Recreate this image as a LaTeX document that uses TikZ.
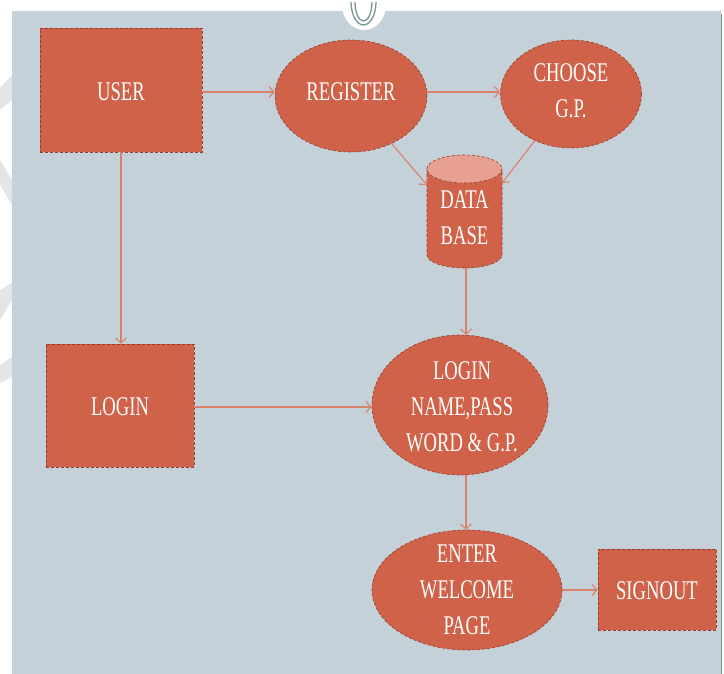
\documentclass[tikz,border=0pt]{standalone}
\usepackage{fontspec}
\setmainfont{Liberation Serif}[FakeStretch=0.69]
\usetikzlibrary{shapes.geometric,arrows.meta}
\definecolor{panel}{RGB}{197,209,216}
\definecolor{boxfill}{RGB}{208,98,73}
\definecolor{boxedge}{RGB}{150,60,45}
\definecolor{arrowc}{RGB}{218,128,108}
\definecolor{capfill}{RGB}{232,160,145}
\definecolor{wm}{RGB}{229,229,229}
\definecolor{tealc}{RGB}{120,150,150}
\begin{document}
\begin{tikzpicture}[x=1pt,y=-1pt,
  shapebox/.style={draw=boxedge, fill=boxfill, densely dashed, line width=0.6pt},
  rectbox/.style={shapebox, rectangle, inner sep=0pt},
  ellbox/.style={shapebox, ellipse, inner sep=0pt},
  lbl/.style={text=white, font=\fontsize{27}{36}\selectfont, align=center, inner sep=0pt},
  flow/.style={draw=arrowc, line width=1.1pt, -{Straight Barb[length=5pt,width=11pt]}},
]
\useasboundingbox (0,0) rectangle (724,674);
\fill[white] (0,0) rectangle (724,674);
% watermark in left margin
\fill[wm] (0,88) -- (12,75) -- (12,100) -- (0,110) -- cycle;
\fill[wm] (0,160) -- (12,180) -- (12,205) -- (0,185) -- cycle;
\fill[wm] (0,290) -- (12,283) -- (12,300) -- (0,320) -- cycle;
\fill[wm] (0,365) -- (12,357) -- (12,377) -- (0,383) -- cycle;
% panel
\fill[panel] (12,11) rectangle (721,674);
\draw[tealc, line width=1.5pt] (721.5,14) -- (721.5,674);
% top symbol
\fill[white] (342,0) -- (342,5) arc[start angle=180, end angle=0, x radius=22, y radius=25] -- (386,0) -- cycle;
\draw[tealc, line width=1.3pt] (351,2) arc[start angle=180, end angle=0, x radius=12.5, y radius=23];
\draw[tealc, line width=1.3pt] (355,2) arc[start angle=180, end angle=0, x radius=8.5, y radius=19];

% shapes
\node[rectbox, minimum width=162pt, minimum height=124pt] (user) at (121,90) {};
\node[lbl] (userT) at (121,92) {USER};
\node[ellbox, minimum width=152pt, minimum height=112pt] (reg) at (351,96) {};
\node[lbl] (regT) at (351,92) {REGISTER};
\node[ellbox, minimum width=141pt, minimum height=108pt] (gp) at (571,94) {};
\node[lbl] (gpT) at (571,91) {CHOOSE\\G.P.};

% database cylinder
\path[shapebox] (427,169) -- (427,255) arc[start angle=180, end angle=0, x radius=37.5, y radius=13] -- (502,169) -- cycle;
\path[shapebox, fill=capfill] (464.5,169) ellipse[x radius=37.5, y radius=14];
\node[inner sep=0pt, minimum width=75pt, minimum height=113pt] (db) at (464.5,211.5) {};
\node[lbl] (dbT) at (464.5,218) {DATA\\BASE};
\coordinate (dbL) at (427,185);
\coordinate (dbR) at (502,183);

\node[rectbox, minimum width=148pt, minimum height=123pt] (login) at (120,405.5) {};
\node[lbl] (loginT) at (120,407) {LOGIN};
\node[ellbox, minimum width=176pt, minimum height=140pt] (cred) at (460,405) {};
\node[lbl] (credT) at (462,407) {LOGIN\\NAME,PASS\\WORD \& G.P.};
\node[ellbox, minimum width=190pt, minimum height=120pt] (wel) at (467,590) {};
\node[lbl] (welT) at (467,590) {ENTER\\WELCOME\\PAGE};
\node[rectbox, minimum width=118pt, minimum height=81pt] (sign) at (657,589.5) {};
\node[lbl] (signT) at (657,591) {SIGNOUT};

% connectors
\draw[flow] (user.east |- 0,92) -- (reg.west |- 0,92);
\draw[flow] (reg.east |- 0,92) -- (gp.west |- 0,92);
\draw[flow] (reg) -- (dbL);
\draw[flow] (gp) -- (dbR);
\draw[flow] (db.south -| 466,0) -- (cred.north -| 466,0);
\draw[flow] (user.south) -- (login.north -| user.south);
\draw[flow] (login.east |- 0,407) -- (cred.west |- 0,407);
\draw[flow] (cred.south -| 466,0) -- (wel.north -| 466,0);
\draw[flow] (wel.east) -- (sign.west |- wel.east);
\end{tikzpicture}
\end{document}
